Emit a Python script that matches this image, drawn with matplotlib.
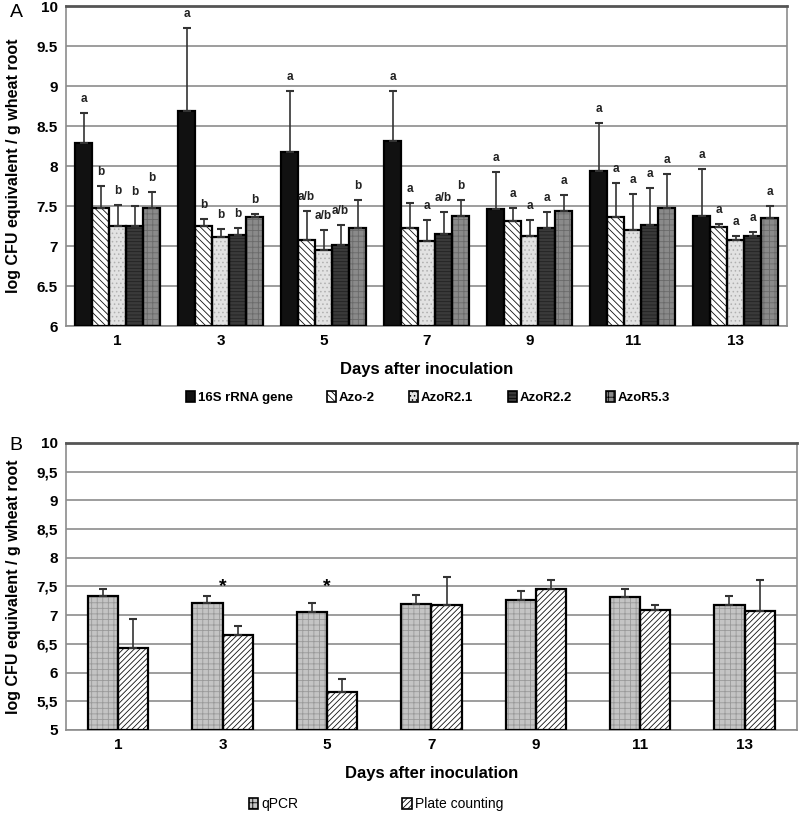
import numpy as np
import matplotlib.pyplot as plt
from matplotlib.patches import Patch

plt.rcParams['font.family'] = ['Liberation Sans', 'DejaVu Sans']
plt.rcParams['hatch.linewidth'] = 0.6

days = ['1', '3', '5', '7', '9', '11', '13']

# panel A: qPCR targets
seriesA = ['16S rRNA gene', 'Azo-2', 'AzoR2.1', 'AzoR2.2', 'AzoR5.3']
rrna16s = [8.29, 8.69, 8.18, 8.31, 7.46, 7.94, 7.37]
azo2 = [7.47, 7.25, 7.07, 7.22, 7.31, 7.36, 7.24]
azor21 = [7.25, 7.11, 6.95, 7.06, 7.12, 7.20, 7.08]
azor22 = [7.25, 7.14, 7.01, 7.15, 7.23, 7.26, 7.12]
azor53 = [7.48, 7.36, 7.23, 7.37, 7.44, 7.48, 7.35]
# error bar tops
rrna16s_top = [8.66, 9.72, 8.94, 8.94, 7.92, 8.54, 7.96]
azo2_top = [7.75, 7.34, 7.44, 7.54, 7.48, 7.79, 7.28]
azor21_top = [7.51, 7.21, 7.20, 7.32, 7.32, 7.65, 7.13]
azor22_top = [7.50, 7.23, 7.26, 7.42, 7.42, 7.72, 7.17]
azor53_top = [7.68, 7.40, 7.58, 7.57, 7.64, 7.90, 7.50]
letters = [
    ['a', 'b', 'b', 'b', 'b'],
    ['a', 'b', 'b', 'b', 'b'],
    ['a', 'a/b', 'a/b', 'a/b', 'b'],
    ['a', 'a', 'a', 'a/b', 'b'],
    ['a', 'a', 'a', 'a', 'a'],
    ['a', 'a', 'a', 'a', 'a'],
    ['a', 'a', 'a', 'a', 'a'],
]

# panel B: qPCR vs plate counting
seriesB = ['qPCR', 'Plate counting']
qpcr = [7.33, 7.21, 7.06, 7.20, 7.26, 7.31, 7.18]
plate = [6.42, 6.66, 5.66, 7.17, 7.45, 7.09, 7.07]
qpcr_top = [7.45, 7.34, 7.22, 7.35, 7.42, 7.45, 7.33]
plate_top = [6.94, 6.81, 5.88, 7.67, 7.62, 7.17, 7.62]
star_days = ['3', '5']

fig = plt.figure(figsize=(8, 8.14), dpi=100)

# style per series: face, hatch, hatch colour
stylesA = [
    ('#111111', '', '#111111'),
    ('white', '\\\\\\\\\\', '#111111'),
    ('#e2e2e2', '....', '#b0b0b0'),
    ('#3a3a3a', '-----', '#222222'),
    ('#8a8a8a', '+++', '#6a6a6a'),
]
stylesB = [
    ('#c4c4c4', '+++', '#999999'),
    ('white', '//////', '#111111'),
]


def draw_bars(ax, x, vals, tops, face, hatch, hcol, w):
    vals = np.array(vals)
    err = np.array(tops) - vals
    base = ax.get_ylim()[0]
    ax.bar(x, vals - base, w, bottom=base, color=face,
           hatch=hatch, edgecolor=hcol, linewidth=0, zorder=2)
    ax.bar(x, vals - base, w, bottom=base, color='none',
           edgecolor='black', linewidth=1.6, zorder=3)
    ax.errorbar(x, vals, yerr=[np.zeros_like(err), err], fmt='none',
                ecolor='#333333', elinewidth=1.2, capsize=3, capthick=1.5, zorder=4)


def style_axes(ax):
    ax.grid(axis='y', color='#8c8c8c', linewidth=1.2, zorder=0)
    ax.set_axisbelow(True)
    for s in ['left', 'right', 'bottom']:
        ax.spines[s].set_color('#8c8c8c')
        ax.spines[s].set_linewidth(1.2)
    ax.spines['top'].set_color('#555555')
    ax.spines['top'].set_linewidth(2)
    ax.tick_params(length=0, labelsize=11, pad=6)
    for lab in ax.get_xticklabels() + ax.get_yticklabels():
        lab.set_fontweight('bold')
    ax.set_xlabel('Days after inoculation', fontsize=12, fontweight='bold', labelpad=10)
    ax.set_ylabel('log CFU equivalent / g wheat root', fontsize=11.5, fontweight='bold')


# ---- panel A
axA = fig.add_axes([0.0825, 0.5995, 0.9015, 0.3931])
axA.set_ylim(6, 10)
axA.set_xlim(-0.5, len(days) - 0.5)
x = np.arange(len(days))
w = 0.165
valsA = [rrna16s, azo2, azor21, azor22, azor53]
topsA = [rrna16s_top, azo2_top, azor21_top, azor22_top, azor53_top]
for i in range(5):
    xi = x + (i - 2) * w
    draw_bars(axA, xi, valsA[i], topsA[i], *stylesA[i], w)
    for j in range(len(days)):
        axA.text(xi[j], topsA[i][j] + 0.1, letters[j][i], ha='center', va='bottom',
                 fontsize=8.5, fontweight='bold', color='#222222')
axA.set_xticks(x)
axA.set_xticklabels(days)
axA.set_yticks(np.arange(6, 10.01, 0.5))
axA.set_yticklabels(['6', '6.5', '7', '7.5', '8', '8.5', '9', '9.5', '10'])
style_axes(axA)
axA.yaxis.set_label_coords(-0.062, 0.5)
fig.text(0.012, 0.985, 'A', fontsize=14, va='center')

handlesA = [Patch(facecolor=s[0], hatch=s[1], edgecolor='black', linewidth=1.2) for s in stylesA]
fig.legend(handlesA, seriesA, loc='center', bbox_to_anchor=(0.535, 0.512), ncol=5,
           frameon=False, handlelength=0.7, handleheight=0.9,
           handletextpad=0.2, columnspacing=2.6, prop={'weight': 'bold', 'size': 9.5})

# ---- panel B
axB = fig.add_axes([0.0825, 0.1032, 0.9135, 0.3526])
axB.set_ylim(5, 10)
axB.set_xlim(-0.5, len(days) - 0.5)
wB = 0.29
valsB = [qpcr, plate]
topsB = [qpcr_top, plate_top]
for i in range(2):
    xi = x + (i - 0.5) * wB
    draw_bars(axB, xi, valsB[i], topsB[i], *stylesB[i], wB)
for d in star_days:
    axB.text(days.index(d), 7.5, '*', ha='center', va='center', fontsize=14,
             fontweight='bold')
axB.set_xticks(x)
axB.set_xticklabels(days)
axB.set_yticks(np.arange(5, 10.01, 0.5))
axB.set_yticklabels(['5', '5,5', '6', '6,5', '7', '7,5', '8', '8,5', '9', '9,5', '10'])
style_axes(axB)
axB.yaxis.set_label_coords(-0.061, 0.5)
fig.text(0.012, 0.453, 'B', fontsize=14, va='center')

handlesB = [Patch(facecolor=s[0], hatch=s[1], edgecolor='black', linewidth=1.2) for s in stylesB]
fig.legend(handlesB, seriesB, loc='center', bbox_to_anchor=(0.47, 0.012), ncol=2,
           frameon=False, handlelength=0.7, handleheight=0.9,
           handletextpad=0.2, columnspacing=7.5, prop={'size': 10})

fig.savefig('out.png', dpi=100)
